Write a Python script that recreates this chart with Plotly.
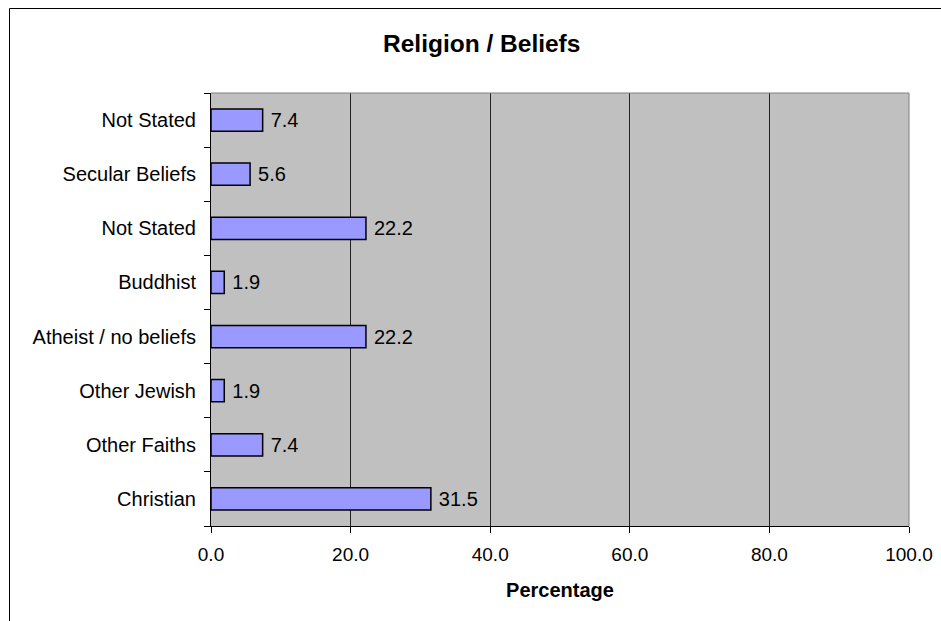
import plotly.graph_objects as go

categories = ["Christian", "Other Faiths", "Other Jewish", "Atheist / no beliefs",
              "Buddhist", "Not Stated", "Secular Beliefs", "Not Stated"]
values = [31.5, 7.4, 1.9, 22.2, 1.9, 22.2, 5.6, 7.4]
x_ticks = [0, 20, 40, 60, 80, 100]
x_tick_labels = ["0.0", "20.0", "40.0", "60.0", "80.0", "100.0"]

positions = list(range(len(categories)))
FONT = "Liberation Sans, Arial, sans-serif"

fig = go.Figure()
fig.add_trace(go.Bar(
    x=values, y=positions, orientation="h",
    marker=dict(color="#9999FF", line=dict(color="#000000", width=1.5)),
    text=[f"\u2005{v:.1f}" for v in values], textposition="outside",
    textfont=dict(family=FONT, size=20, color="#000000"),
    cliponaxis=False, hoverinfo="skip",
))

L, R, T, B = 211, 32, 93, 95
W, H = 941, 621
pw, ph = W - L - R, H - T - B

def px_to_paper_x(px):
    return (px - L) / pw

def px_to_paper_y(py):
    return (H - B - py) / ph

fig.update_layout(
    width=W, height=H,
    margin=dict(l=L, r=R, t=T, b=B, pad=0, autoexpand=False),
    paper_bgcolor="#FFFFFF", plot_bgcolor="#C0C0C0",
    bargap=0.59, showlegend=False,
    font=dict(family=FONT, color="#000000"),
    xaxis=dict(
        range=[0, 100], tickvals=x_ticks, ticktext=x_tick_labels,
        showgrid=True, gridcolor="#222222", gridwidth=1,
        showline=True, linecolor="#000000", linewidth=1,
        ticks="outside", ticklen=6, tickcolor="#000000",
        ticklabelstandoff=5, automargin=False,
        tickfont=dict(family=FONT, size=19),
        title=dict(text="<b>Percentage</b>", font=dict(family=FONT, size=20), standoff=19),
        zeroline=False, fixedrange=True,
    ),
    yaxis=dict(
        range=[-0.5, len(categories) - 0.5],
        tickvals=positions, ticktext=categories,
        ticks="outside", ticklen=10, tickcolor="rgba(0,0,0,0)",
        tickfont=dict(family=FONT, size=20), automargin=False,
        showline=True, linecolor="#000000", linewidth=1,
        showgrid=False, zeroline=False, fixedrange=True,
        minor=dict(tickvals=[p - 0.5 for p in positions] + [len(categories) - 0.5],
                   ticks="outside", ticklen=6, tickcolor="#000000", showgrid=False),
    ),
    shapes=[
        # plot area top and right border (grey)
        dict(type="line", xref="paper", yref="paper", x0=0, x1=1, y0=1, y1=1,
             line=dict(color="#808080", width=1)),
        dict(type="line", xref="paper", yref="paper", x0=1, x1=1, y0=0, y1=1,
             line=dict(color="#808080", width=1)),
        # chart area border
        dict(type="rect", xref="paper", yref="paper",
             x0=px_to_paper_x(9.5), x1=px_to_paper_x(W + 20),
             y0=px_to_paper_y(H + 20), y1=px_to_paper_y(8.5),
             line=dict(color="#000000", width=1), fillcolor="rgba(0,0,0,0)", layer="below"),
    ],
    annotations=[
        dict(text="<b>Religion / Beliefs</b>", xref="paper", yref="paper",
             x=px_to_paper_x(481), y=px_to_paper_y(43), xanchor="center", yanchor="middle",
             showarrow=False, font=dict(family=FONT, size=24.5, color="#000000")),
    ],
)

fig.write_html("out.html")
